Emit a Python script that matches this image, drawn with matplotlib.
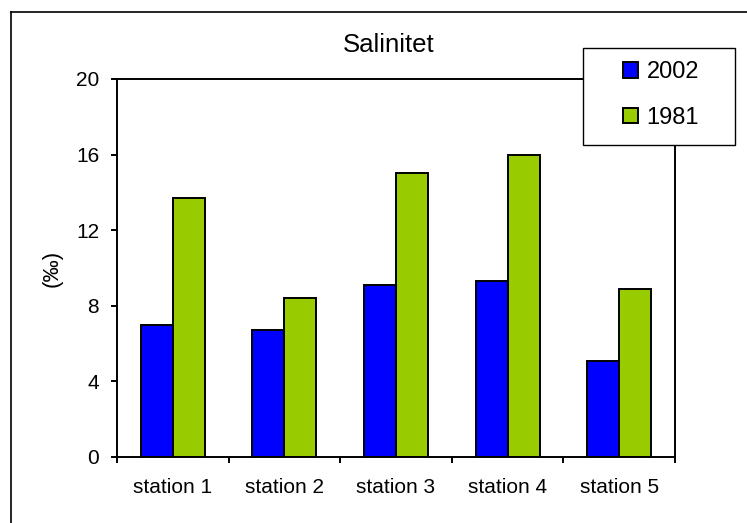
import matplotlib
matplotlib.use("Agg")
import matplotlib.pyplot as plt
from matplotlib.patches import Rectangle
from matplotlib.lines import Line2D
import numpy as np

plt.rcParams['font.family'] = ['Liberation Sans', 'DejaVu Sans']

stations = ["station 1", "station 2", "station 3", "station 4", "station 5"]
salinity_2002 = [7.0, 6.7, 9.1, 9.3, 5.1]
salinity_1981 = [13.7, 8.4, 15.0, 16.0, 8.9]
series_labels = ["2002", "1981"]
y_ticks = [0, 4, 8, 12, 16, 20]

W, H = 747, 523
DPI = 100
fig = plt.figure(figsize=(W / DPI, H / DPI), dpi=DPI)
fig.patch.set_facecolor("white")

def fx(px):
    return px / W

def fy(py):
    return 1 - py / H

# plot area
ax = fig.add_axes([fx(117), fy(457), fx(675) - fx(117), fy(79) - fy(457)])

x = np.arange(len(stations))
bw = 0.287
lw = 1.4
b1 = ax.bar(x - bw / 2, salinity_2002, bw, color="#0000FF", edgecolor="black",
            linewidth=lw, label=series_labels[0], zorder=2)
b2 = ax.bar(x + bw / 2, salinity_1981, bw, color="#99CC00", edgecolor="black",
            linewidth=lw, label=series_labels[1], zorder=2)

ax.set_xlim(-0.5, len(stations) - 0.5)
ax.set_ylim(0, 20)
ax.set_yticks(y_ticks)
ax.set_yticklabels([str(t) for t in y_ticks], fontsize=15)

# category boundaries carry the ticks, centres carry the labels
ax.set_xticks(np.arange(len(stations) + 1) - 0.5)
ax.set_xticklabels([])
ax.set_xticks(x, minor=True)
ax.set_xticklabels(stations, minor=True, fontsize=15)
ax.tick_params(axis="x", which="minor", length=0, pad=15)
ax.tick_params(axis="x", which="major", direction="out", length=4.3, width=lw)
ax.tick_params(axis="y", direction="out", length=4.3, width=lw, pad=8.5)

for s in ax.spines.values():
    s.set_linewidth(lw)
    s.set_color("black")

fig.text(fx(389), fy(52), "Salinitet", ha="center", va="baseline", fontsize=18.5)
fig.text(fx(52), fy(268), "(‰)", ha="center", va="center", rotation=90, fontsize=16)

# legend box
fig.patches.append(Rectangle((fx(583), fy(145)), fx(735) - fx(583), fy(48) - fy(145),
                             transform=fig.transFigure, facecolor="white",
                             edgecolor="black", linewidth=1.0, zorder=3))
fig.legend(handles=[b1, b2], labels=series_labels, loc="center",
           bbox_to_anchor=(fx(661), fy(95)), frameon=False, fontsize=17,
           handlelength=0.64, handleheight=0.64, handletextpad=0.35,
           labelspacing=1.0, borderpad=0.2).set_zorder(5)

# outer chart frame
fig.lines.append(Line2D([fx(11), fx(11)], [fy(12), 0], transform=fig.transFigure,
                        color="black", linewidth=1.2))
fig.lines.append(Line2D([fx(11), 1], [fy(12), fy(12)], transform=fig.transFigure,
                        color="black", linewidth=1.2))

fig.savefig("out.png", dpi=DPI, facecolor="white")
